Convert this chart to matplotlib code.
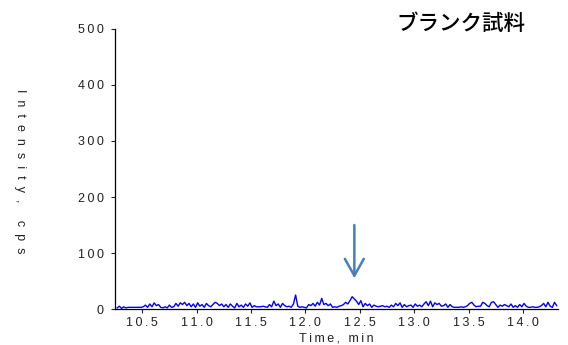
import numpy as np
import matplotlib
matplotlib.use("Agg")
import matplotlib.pyplot as plt

# Chromatogram trace (blank sample): retention time grid and intensity in cps
t_start = 10.27
t_step = 0.02
intensity = [
    2, 5, 1, 4, 2, 3, 3, 3, 3, 3,
    3, 3, 4, 7, 3, 9, 4, 11, 6, 8,
    3, 2, 4, 2, 7, 3, 4, 10, 5, 11,
    8, 12, 6, 10, 4, 9, 3, 11, 5, 8,
    3, 10, 6, 4, 8, 12, 10, 6, 9, 4,
    8, 3, 9, 5, 2, 10, 4, 7, 3, 9,
    5, 11, 3, 6, 4, 4, 4, 5, 4, 3,
    8, 4, 14, 6, 9, 3, 10, 6, 4, 5,
    3, 9, 25, 5, 3, 4, 3, 2, 8, 6,
    10, 5, 12, 7, 19, 8, 10, 6, 9, 3,
    4, 3, 5, 6, 8, 12, 9, 15, 22, 18,
    14, 8, 15, 4, 10, 6, 9, 3, 7, 5,
    4, 5, 6, 4, 5, 3, 7, 4, 10, 6,
    11, 3, 8, 4, 6, 7, 3, 9, 5, 7,
    4, 9, 13, 6, 14, 4, 11, 8, 10, 5,
    6, 9, 3, 8, 4, 3, 3, 3, 4, 3,
    4, 6, 10, 12, 7, 4, 5, 5, 12, 10,
    6, 4, 12, 13, 8, 3, 7, 5, 8, 6,
    4, 9, 3, 6, 3, 8, 4, 10, 5, 3,
    3, 4, 3, 3, 4, 6, 10, 4, 12, 5,
    3, 12, 6,
]
time = t_start + t_step * np.arange(len(intensity))

x_ticks = [10.5, 11.0, 11.5, 12.0, 12.5, 13.0, 13.5, 14.0]
y_ticks = [0, 100, 200, 300, 400, 500]

# Marker pointing at the expected retention time
marker_time = 12.45
marker_top = 150
marker_tip = 55

title_text = "ブランク試料"
x_label = "Time, min"
y_label = "Intensity, cps"

plt.rcParams["font.family"] = ["Liberation Sans", "DejaVu Sans"]


def spaced(s, gap):
    """Insert a fixed gap between characters to mimic letter-spaced labels."""
    return gap.join(s)


THIN = "\u2009"

fig = plt.figure(figsize=(5.68, 3.45), dpi=100)
ax = fig.add_axes([0.2025, 0.1043, 0.7795, 0.8117])

ax.plot(time, intensity, color="#0000ff", lw=1.0)

ax.set_xlim(10.25, 14.32)
ax.set_ylim(0, 500)
ax.set_xticks(x_ticks)
ax.set_xticklabels([spaced(f"{v:.1f}", THIN) for v in x_ticks])
ax.set_yticks(y_ticks)
ax.set_yticklabels([spaced(str(v), THIN) for v in y_ticks])

for side in ("top", "right"):
    ax.spines[side].set_visible(False)
for side in ("left", "bottom"):
    ax.spines[side].set_color("black")
    ax.spines[side].set_linewidth(0.9)

ax.tick_params(axis="both", direction="out", length=3, width=0.8,
               labelsize=9, colors="#222222", pad=3)
ax.tick_params(axis="y", pad=5)

ax.set_xlabel(spaced(x_label, THIN), fontsize=9, labelpad=2, color="#222222")
fig.text(0.035, 0.505, spaced(y_label, "  "), rotation=-90, ha="center",
         va="center", fontsize=9, color="#222222")

ax.annotate("", xy=(marker_time, marker_tip), xytext=(marker_time, marker_top),
            arrowprops=dict(arrowstyle="->,head_length=1.1,head_width=0.62",
                            color="#4a7ebb", lw=1.8, mutation_scale=11,
                            shrinkA=0, shrinkB=0))

fig.text(0.812, 0.932, title_text, ha="center", va="center", fontsize=15.5,
         weight="medium", family=["Noto Sans CJK JP", "DejaVu Sans"])

fig.savefig("out.png", dpi=100)
